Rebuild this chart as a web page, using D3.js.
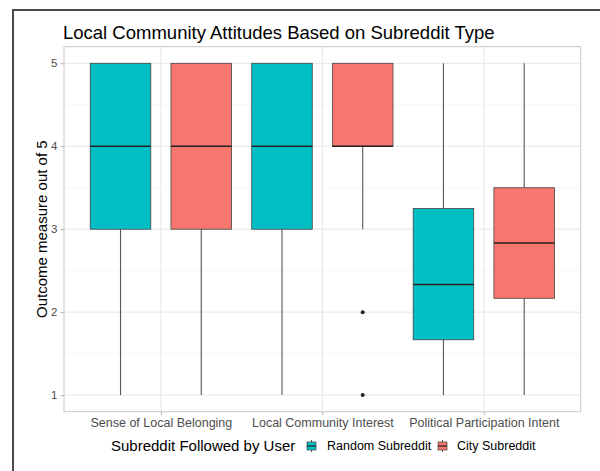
<!DOCTYPE html>
<html><head><meta charset="utf-8">
<script src="https://cdn.jsdelivr.net/npm/d3@7"></script>
<style>body{margin:0;background:#fff;} svg{display:block;font-family:"Liberation Sans",Arial,sans-serif;}</style>
</head><body>
<svg id="c" width="600" height="471"></svg>
<script>
const categories = ["Sense of Local Belonging","Local Community Interest","Political Participation Intent"];
const groups = ["Random Subreddit","City Subreddit"];
const colors = ["#00BFC4","#F8766D"];
const yTicks = [1,2,3,4,5];
const randomMin = [1,1,1], randomQ1 = [3,3,1.667], randomMedian = [4,4,2.333], randomQ3 = [5,5,3.25], randomMax = [5,5,5];
const cityMin = [1,3,1], cityQ1 = [3,4,2.167], cityMedian = [4,4,2.833], cityQ3 = [5,5,3.5], cityMax = [5,5,5];
const randomOutliers = [[],[],[]];
const cityOutliers = [[],[2,1],[]];

const stats = [
  {min:randomMin,q1:randomQ1,med:randomMedian,q3:randomQ3,max:randomMax,out:randomOutliers},
  {min:cityMin,q1:cityQ1,med:cityMedian,q3:cityQ3,max:cityMax,out:cityOutliers}
];

const svg = d3.select("#c");
const L=64, R=580.7, T=46.7, B=411.7;
const x = d3.scaleLinear().domain([0.4, categories.length+0.6]).range([L,R]);
const y = d3.scaleLinear().domain([0.8,5.2]).range([B,T]);
const dodge = [-0.25, 0.25], bw = 0.375;

// frame
svg.append("rect").attr("x",13).attr("y",10).attr("width",620).attr("height",500)
  .attr("fill","none").attr("stroke","#4a4a4a").attr("stroke-width",2);

// minor grid
const minors = [1.5,2.5,3.5,4.5];
svg.append("g").selectAll("line").data(minors).join("line")
  .attr("x1",L).attr("x2",R).attr("y1",d=>y(d)).attr("y2",d=>y(d))
  .attr("stroke","#f2f2f2").attr("stroke-width",0.6);
// major grid
svg.append("g").selectAll("line").data(yTicks).join("line")
  .attr("x1",L).attr("x2",R).attr("y1",d=>y(d)).attr("y2",d=>y(d))
  .attr("stroke","#e6e6e6").attr("stroke-width",1);
svg.append("g").selectAll("line").data(categories).join("line")
  .attr("y1",T).attr("y2",B).attr("x1",(d,i)=>x(i+1)).attr("x2",(d,i)=>x(i+1))
  .attr("stroke","#e6e6e6").attr("stroke-width",1);

// boxes
stats.forEach((s,g)=>{
  const gg = svg.append("g");
  categories.forEach((c,i)=>{
    const cx = x(i+1+dodge[g]);
    const x0 = x(i+1+dodge[g]-bw/2), x1 = x(i+1+dodge[g]+bw/2);
    gg.append("line").attr("x1",cx).attr("x2",cx).attr("y1",y(s.q3[i])).attr("y2",y(s.max[i]))
      .attr("stroke","#555").attr("stroke-width",1.1);
    gg.append("line").attr("x1",cx).attr("x2",cx).attr("y1",y(s.q1[i])).attr("y2",y(s.min[i]))
      .attr("stroke","#555").attr("stroke-width",1.1);
    gg.append("rect").attr("x",x0).attr("width",x1-x0).attr("y",y(s.q3[i]))
      .attr("height",Math.max(0,y(s.q1[i])-y(s.q3[i])))
      .attr("fill",colors[g]).attr("stroke","#444").attr("stroke-width",0.8);
    gg.append("line").attr("x1",x0).attr("x2",x1).attr("y1",y(s.med[i])).attr("y2",y(s.med[i]))
      .attr("stroke","#222").attr("stroke-width",1.6);
    s.out[i].forEach(v=>{
      gg.append("circle").attr("cx",cx).attr("cy",y(v)).attr("r",2).attr("fill","#222");
    });
  });
});

// panel border
svg.append("rect").attr("x",L).attr("y",T).attr("width",R-L).attr("height",B-T)
  .attr("fill","none").attr("stroke","#c8c8c8").attr("stroke-width",1);

// y axis
const ya = svg.append("g").attr("transform",`translate(${L},0)`)
  .call(d3.axisLeft(y).tickValues(yTicks).tickSize(3.5).tickPadding(3).tickFormat(d3.format("d")));
ya.select(".domain").remove();
ya.selectAll("line").attr("stroke","#b3b3b3");
ya.selectAll("text").attr("fill","#4d4d4d").style("font-size","11.5px").style("font-family","Liberation Sans, Arial, sans-serif");

// x axis
const xa = svg.append("g").attr("transform",`translate(0,${B})`)
  .call(d3.axisBottom(x).tickValues([1,2,3]).tickSize(3.5).tickPadding(3).tickFormat(d=>categories[d-1]));
xa.select(".domain").remove();
xa.selectAll("line").attr("stroke","#b3b3b3");
xa.selectAll("text").attr("fill","#4d4d4d").style("font-size","12.5px").style("font-family","Liberation Sans, Arial, sans-serif");

// title
svg.append("text").attr("x",63).attr("y",39).text("Local Community Attitudes Based on Subreddit Type")
  .style("font-size","18.5px").attr("fill","#000");
// y title
svg.append("text").attr("transform",`translate(47,${(T+B)/2}) rotate(-90)`).attr("text-anchor","middle")
  .text("Outcome measure out of 5").style("font-size","15px").attr("fill","#000");

// legend
const lg = svg.append("g");
lg.append("text").attr("x",111).attr("y",451).text("Subreddit Followed by User").style("font-size","15px").attr("fill","#000");
const keyX = [307, 438], labX = [327, 457];
groups.forEach((g,i)=>{
  const k = lg.append("g");
  k.append("line").attr("x1",keyX[i]+4.5).attr("x2",keyX[i]+4.5).attr("y1",440).attr("y2",452).attr("stroke","#555").attr("stroke-width",1);
  k.append("rect").attr("x",keyX[i]).attr("y",442).attr("width",9).attr("height",8)
    .attr("fill",colors[i]).attr("stroke","#444").attr("stroke-width",0.7);
  k.append("line").attr("x1",keyX[i]).attr("x2",keyX[i]+9).attr("y1",446).attr("y2",446).attr("stroke","#222").attr("stroke-width",1.2);
  lg.append("text").attr("x",labX[i]).attr("y",450).text(g).style("font-size","12.5px").attr("fill","#000");
});
</script>
</body></html>
